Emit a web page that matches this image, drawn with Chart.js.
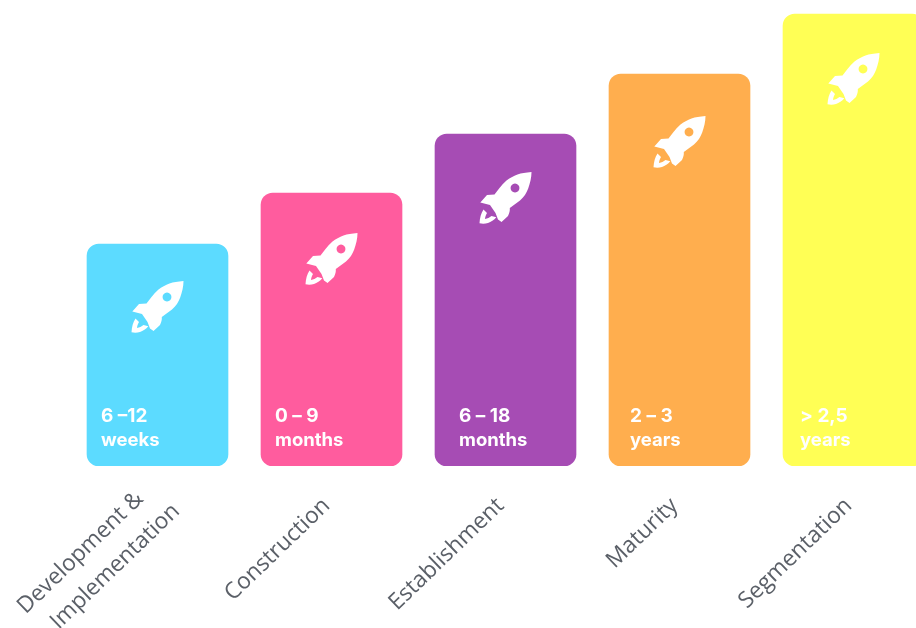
<!DOCTYPE html>
<html>
<head>
<meta charset="utf-8">
<style>
html,body{margin:0;padding:0;background:#fff;overflow:hidden;width:916px;height:628px}
#wrap{position:absolute;left:0;top:0;width:941px;height:628px}
</style>
<script src="https://cdn.jsdelivr.net/npm/chart.js@4/dist/chart.umd.min.js"></script>
</head>
<body>
<div id="wrap"><canvas id="stages" width="941" height="628"></canvas></div>
<script>
const stages = [["Development &", "Implementation"], "Construction", "Establishment", "Maturity", "Segmentation"];
const stageHeights = [222, 273, 332, 392, 452];
const durations = ["6 –12", "0 – 9", "6 – 18", "2 – 3", "> 2,5"];
const durationUnits = ["weeks", "months", "months", "years", "years"];
const barColors = ["#5CDBFF", "#FF5C9E", "#A64CB4", "#FFAE4E", "#FFFF55"];

// Rocket silhouette on a 52x52 box, nose pointing to the upper right
const ROCKET = new Path2D(
  "M52 0 C46 0.5 42 1 38 2.5 C34 4 30 6 27 8.5 C24 11 22 13.5 20 16 L15 22.5 L7.5 23 L0.8 30.5 L10.5 33 " +
  "L16 41 L18.5 47.5 L22 50 L28.5 44 C30 41 30.5 38.5 30.3 36 L40.5 28.5 C44.5 25 47 21 48.7 16.5 C50.5 11 52 6 52 0 Z" +
  "M35.5 11.6 a4.4 4.4 0 1 0 0.01 0 Z" +
  "M4 37.5 C1.5 41 0.3 46 0 51.3 C3 52 6 51.8 8.5 51 C11.5 50 14.5 48 16.8 45.3 L12 44 C10 45.6 8 46.5 5.5 47 C5.7 45 6.3 43 7.5 41 Z"
);

const barOverlay = {
  id: "barOverlay",
  // The two-line label sits slightly closer to the axis than the single-line ones
  beforeDraw(chart, args, opts) {
    const first = chart.scales.x.getLabelItems()[0];
    if (first && !first.nudged) {
      first.options.translation[0] += opts.firstLabelNudge[0];
      first.options.translation[1] += opts.firstLabelNudge[1];
      first.nudged = true;
    }
  },
  afterDatasetsDraw(chart, args, opts) {
    const { ctx } = chart;
    const base = chart.scales.y.getPixelForValue(0);
    chart.getDatasetMeta(0).data.forEach((bar, i) => {
      const left = bar.x - bar.width / 2;
      ctx.save();
      ctx.translate(bar.x - 26, bar.y + opts.rocketDrop[i] - 26);
      ctx.fillStyle = "#fff";
      ctx.fill(ROCKET, "evenodd");
      ctx.restore();

      ctx.save();
      ctx.fillStyle = "#fff";
      ctx.textBaseline = "alphabetic";
      ctx.font = "700 19px Inter";
      ctx.fillText(durations[i], left + opts.textInset[i], base - 44);
      ctx.font = "700 18.5px Inter";
      ctx.fillText(durationUnits[i], left + opts.textInset[i], base - 20);
      ctx.restore();
    });
  }
};

new Chart(document.getElementById("stages"), {
  type: "bar",
  data: {
    labels: stages,
    datasets: [{
      data: stageHeights,
      backgroundColor: barColors,
      borderRadius: 12,
      borderSkipped: false,
      barThickness: 141
    }]
  },
  plugins: [barOverlay],
  options: {
    responsive: false,
    animation: false,
    layout: { padding: { left: 70.5, right: 0.5, top: 0, bottom: 0 } },
    plugins: {
      legend: { display: false },
      tooltip: { enabled: false },
      barOverlay: {
        rocketDrop: [63, 66, 64, 68, 65],
        textInset: [14, 14, 24, 21, 17],
        firstLabelNudge: [0, -19]
      }
    },
    scales: {
      x: {
        grid: { display: false, drawTicks: false },
        border: { display: false },
        // Fixed band under the bars; long rotated labels may run into the page margin
        afterFit(scale) {
          scale.height = 162;
          scale.paddingLeft = 0;
          scale.paddingRight = 0;
        },
        ticks: {
          color: "#5B6068",
          font: { family: "'Open Sans'", size: 22.7, lineHeight: 1.5 },
          minRotation: 44,
          maxRotation: 44,
          autoSkip: false,
          padding: 24,
          labelOffset: -5,
          // Centres the shorter line of a wrapped label over the longer one
          callback(value) {
            const label = this.getLabelForValue(value);
            return Array.isArray(label) ? [label[0] + "   ", label[1]] : label;
          }
        }
      },
      y: {
        display: false,
        min: 0,
        max: 466
      }
    }
  }
});
</script>
</body>
</html>
